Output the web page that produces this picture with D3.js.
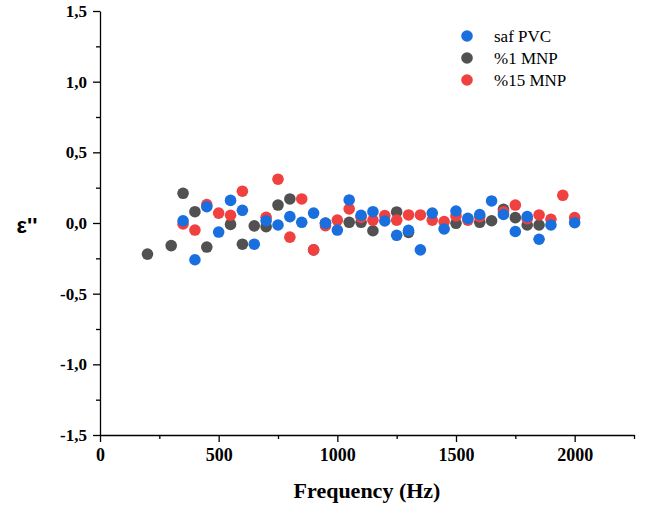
<!DOCTYPE html>
<html>
<head>
<meta charset="utf-8">
<script src="https://cdn.jsdelivr.net/npm/d3@7"></script>
<style>
  body { margin: 0; background: #fff; }
  svg { display: block; }
</style>
</head>
<body>
<div id="chart"></div>
<script>
// saf PVC (blue)
const pvcFreq = [350, 400, 450, 500, 550, 600, 650, 700, 750, 800, 850, 900, 950, 1000, 1050, 1100, 1150, 1200, 1250, 1300, 1350, 1400, 1450, 1500, 1550, 1600, 1650, 1700, 1750, 1800, 1850, 1900, 2000];
const pvcVal = [0.016, -0.26, 0.115, -0.064, 0.16, 0.09, -0.15, 0.016, -0.014, 0.045, 0.005, 0.07, -0.002, -0.05, 0.163, 0.055, 0.08, 0.014, -0.087, -0.052, -0.19, 0.07, -0.042, 0.085, 0.033, 0.06, 0.156, 0.06, -0.06, 0.045, -0.115, -0.014, 0.002];
// %1 MNP (gray)
const mnp1Freq = [200, 300, 350, 400, 450, 550, 600, 650, 700, 750, 800, 900, 950, 1050, 1100, 1150, 1250, 1300, 1500, 1600, 1650, 1700, 1750, 1800, 1850];
const mnp1Val = [-0.22, -0.16, 0.21, 0.08, -0.17, -0.01, -0.15, -0.02, -0.026, 0.127, 0.17, -0.19, 0.0, 0.005, 0.005, -0.055, 0.078, -0.066, -0.002, 0.005, 0.016, 0.097, 0.038, -0.014, -0.014];
// %15 MNP (red)
const mnp15Freq = [350, 400, 450, 500, 550, 600, 700, 750, 800, 850, 900, 950, 1000, 1050, 1100, 1150, 1200, 1250, 1300, 1350, 1400, 1450, 1500, 1550, 1600, 1700, 1750, 1800, 1850, 1900, 1950, 2000];
const mnp15Val = [-0.007, -0.05, 0.13, 0.07, 0.055, 0.225, 0.04, 0.31, -0.10, 0.17, -0.19, -0.019, 0.02, 0.10, 0.04, 0.02, 0.052, 0.02, 0.057, 0.057, 0.02, 0.01, 0.05, 0.02, 0.045, 0.08, 0.127, 0.03, 0.057, 0.026, 0.196, 0.038];

const xTicks = [0, 500, 1000, 1500, 2000];
const yTicks = [-1.5, -1.0, -0.5, 0.0, 0.5, 1.0, 1.5];

const width = 649;
const height = 509;
const margin = { top: 11, right: 15, bottom: 74, left: 100 };

const series = [
  { name: "%1 MNP", color: "#515151", freq: mnp1Freq, val: mnp1Val },
  { name: "%15 MNP", color: "#F14040", freq: mnp15Freq, val: mnp15Val },
  { name: "saf PVC", color: "#1A6FDF", freq: pvcFreq, val: pvcVal },
];
const legendOrder = ["saf PVC", "%1 MNP", "%15 MNP"];

const svg = d3.select("#chart").append("svg").attr("width", width).attr("height", height);

const x = d3.scaleLinear().domain([0, 2250]).range([margin.left, 634]);
const y = d3.scaleLinear().domain([-1.5, 1.5]).range([435, margin.top]);

const fmt = (d) => d.toFixed(1).replace(".", ",");
const serif = "'Liberation Serif', 'Times New Roman', serif";

// minor ticks
svg.append("g")
  .attr("transform", `translate(0,${y(-1.5)})`)
  .call(d3.axisBottom(x).tickValues(d3.range(250, 2251, 500)).tickSize(4).tickFormat(""))
  .call((g) => g.select(".domain").remove());
svg.append("g")
  .attr("transform", `translate(${margin.left},0)`)
  .call(d3.axisLeft(y).tickValues(d3.range(-1.25, 1.5, 0.5)).tickSize(4).tickFormat(""))
  .call((g) => g.select(".domain").remove());

const xAxis = (g) =>
  g.attr("transform", `translate(0,${y(-1.5)})`)
    .call(d3.axisBottom(x).tickValues(xTicks).tickSize(7).tickSizeOuter(0).tickPadding(6).tickFormat(d3.format("d")))
    .call((g) => g.selectAll("text").attr("font-family", serif).attr("font-weight", "bold").attr("font-size", 18).attr("fill", "#000"));

const yAxis = (g) =>
  g.attr("transform", `translate(${margin.left},0)`)
    .call(d3.axisLeft(y).tickValues(yTicks).tickSize(7).tickSizeOuter(0).tickPadding(6).tickFormat(fmt))
    .call((g) => g.selectAll("text").attr("font-family", serif).attr("font-weight", "bold").attr("font-size", 17).attr("fill", "#000"));

svg.append("g").call(xAxis);
svg.append("g").call(yAxis);
svg.selectAll(".domain, .tick line").attr("stroke", "#000").attr("stroke-width", 1.3);

// points
series.forEach((s) => {
  svg.append("g")
    .selectAll("circle")
    .data(s.freq.map((f, i) => ({ f, v: s.val[i] })))
    .join("circle")
    .attr("cx", (d) => x(d.f))
    .attr("cy", (d) => y(d.v))
    .attr("r", 5.8)
    .attr("fill", s.color);
});

// axis titles
svg.append("text")
  .attr("x", (margin.left + 634) / 2)
  .attr("y", 498)
  .attr("text-anchor", "middle")
  .attr("font-family", serif)
  .attr("font-weight", "bold")
  .attr("font-size", 22)
  .text("Frequency (Hz)");

svg.append("text")
  .attr("x", 27)
  .attr("y", 233)
  .attr("text-anchor", "middle")
  .attr("font-family", "'Liberation Sans', Arial, sans-serif")
  .attr("font-weight", "bold")
  .attr("font-size", 22)
  .text("ε''");

// legend
const color = d3.scaleOrdinal()
  .domain(series.map((s) => s.name))
  .range(series.map((s) => s.color));

const legend = svg.append("g")
  .selectAll("g")
  .data(legendOrder)
  .join("g")
  .attr("transform", (d, i) => `translate(467,${36 + i * 22})`);

legend.append("circle").attr("r", 5.8).attr("fill", color);
legend.append("text")
  .attr("x", 27)
  .attr("y", 6)
  .attr("font-family", serif)
  .attr("font-size", 17)
  .text((d) => d);
</script>
</body>
</html>
